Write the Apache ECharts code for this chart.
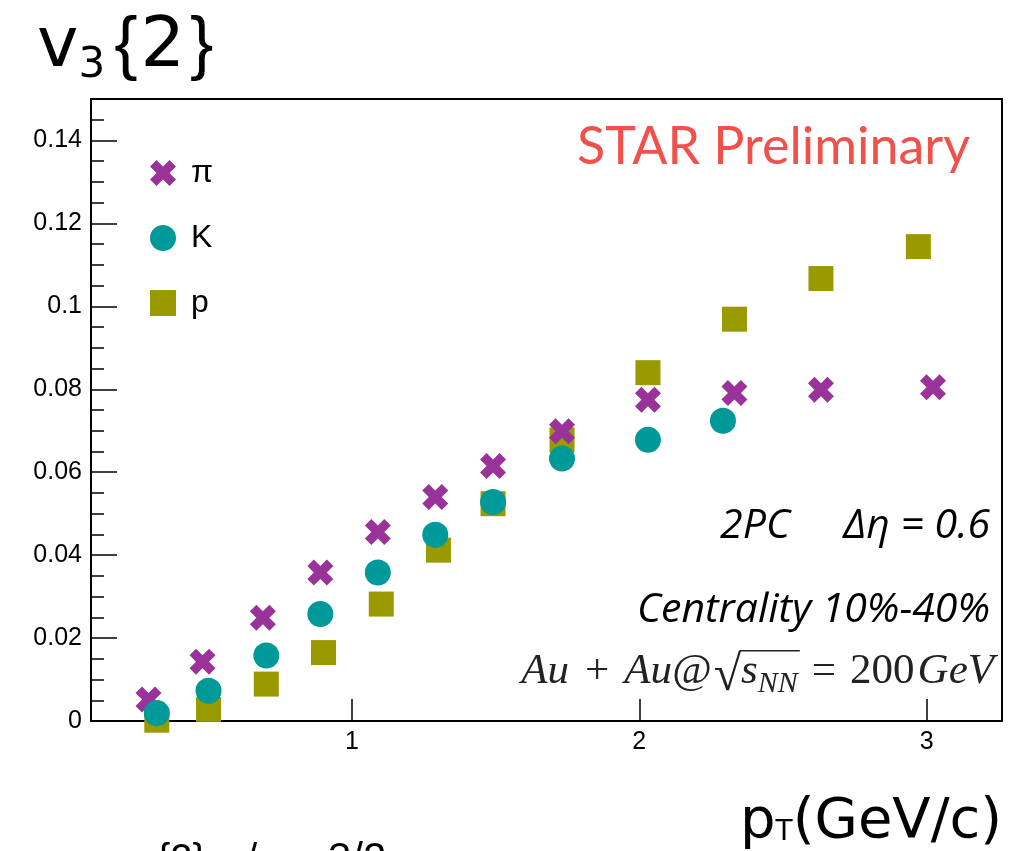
<!DOCTYPE html>
<html>
<head>
<meta charset="utf-8">
<script src="https://cdn.jsdelivr.net/npm/echarts@6/dist/echarts.min.js"></script>
<style>
  html, body { margin: 0; padding: 0; background: #fff; }
  #chart { width: 1026px; height: 851px; }
</style>
</head>
<body>
<div id="chart"></div>
<script>
// v3{2} versus transverse momentum for identified hadrons
const ptPi = [0.292, 0.480, 0.690, 0.890, 1.090, 1.290, 1.491, 1.731, 2.030, 2.331, 2.632, 3.022];
const v3Pi = [0.0052, 0.0143, 0.0249, 0.0358, 0.0456, 0.0540, 0.0615, 0.0699, 0.0775, 0.0791, 0.0799, 0.0805];

const ptK = [0.321, 0.501, 0.702, 0.890, 1.090, 1.290, 1.491, 1.731, 2.030, 2.291];
const v3K = [0.0019, 0.0073, 0.0158, 0.0258, 0.0358, 0.0449, 0.0528, 0.0633, 0.0678, 0.0724];

const ptP = [0.321, 0.501, 0.702, 0.901, 1.102, 1.301, 1.491, 1.731, 2.030, 2.331, 2.632, 2.971];
const v3P = [0.0002, 0.0028, 0.0089, 0.0165, 0.0282, 0.0412, 0.0524, 0.0678, 0.0840, 0.0969, 0.1067, 0.1144];

const seriesNames = ['π', 'K', 'p'];

const xTickValues = [1, 2, 3];
const yMajorValues = [0, 0.02, 0.04, 0.06, 0.08, 0.1, 0.12, 0.14];
const yMinorValues = [];
for (let i = 1; i < 30; i++) {
  if (i % 4 !== 0) yMinorValues.push(+(i * 0.005).toFixed(3));
}

const X_MIN = 0.092, X_MAX = 3.262, Y_MIN = 0, Y_MAX = 0.15;

const COLOR_PI = '#993399', COLOR_K = '#009999', COLOR_P = '#999900';
const CROSS = 'path://M2.5,0L5,2.5L7.5,0L10,2.5L7.5,5L10,7.5L7.5,10L5,7.5L2.5,10L0,7.5L2.5,5L0,2.5Z';

const zip = (xs, ys) => xs.map((x, i) => [x, ys[i]]);

// --- text layout helpers (baseline-aligned runs of differently styled pieces) ---
const mctx = document.createElement('canvas').getContext('2d');
const SANS = '"Liberation Sans", Arial, sans-serif';
const DEJAVU = '"DejaVu Sans", sans-serif';
const SERIF = '"Liberation Serif", "Times New Roman", serif';
const LATO = 'Lato, "Open Sans", sans-serif';
const OPEN = '"Open Sans", Lato, sans-serif';

function fontOf(p) {
  return (p.italic ? 'italic ' : '') + p.size + 'px ' + p.family;
}
function width(text, font) {
  mctx.font = font; mctx.textBaseline = 'alphabetic';
  return mctx.measureText(text).width;
}
// offset from the em-box middle to the alphabetic baseline
function midToBase(font) {
  mctx.font = font; mctx.textBaseline = 'middle';
  return mctx.measureText('H').actualBoundingBoxDescent;
}
function ascentOf(text, font) {
  mctx.font = font; mctx.textBaseline = 'alphabetic';
  return mctx.measureText(text).actualBoundingBoxAscent;
}

function textRun(pieces, x, baseline, align, color) {
  const widths = pieces.map(p => width(p.t, fontOf(p)) + (p.gap || 0));
  const total = widths.reduce((a, b) => a + b, 0);
  let cx = align === 'right' ? x - total : x;
  const els = [], spans = [];
  pieces.forEach((p, i) => {
    const f = fontOf(p);
    const base = baseline + (p.dy || 0);
    const gx = cx + (p.gap || 0);
    els.push({
      type: 'text', silent: true, z: 10,
      x: gx, y: base - midToBase(f),
      style: { text: p.t, font: f, fill: p.color || color, align: 'left', verticalAlign: 'middle' }
    });
    spans.push({ x0: gx, x1: cx + widths[i], base: base, font: f, t: p.t });
    cx += widths[i];
  });
  return { els, spans };
}

const graphics = [];

// y-axis title v3{2}
graphics.push(...textRun([
  { t: 'v', size: 70, family: DEJAVU },
  { t: '3', size: 42, family: DEJAVU, dy: 11 },
  { t: '{', size: 70, family: SANS, gap: 9 },
  { t: '2', size: 70, family: DEJAVU, gap: 3 },
  { t: '}', size: 70, family: SANS, gap: 5 }
], 37, 66, 'left', '#000').els);

// x-axis title pT(GeV/c)
graphics.push(...textRun([
  { t: 'p', size: 56, family: DEJAVU },
  { t: 'T', size: 28, family: DEJAVU, dy: 2 },
  { t: '(GeV/c)', size: 56, family: DEJAVU }
], 740, 838, 'left', '#000').els);

// STAR Preliminary
graphics.push(...textRun([
  { t: 'STAR Preliminary', size: 52, family: LATO }
], 970, 164, 'right', '#f0514b').els);

// analysis labels
graphics.push(...textRun([
  { t: '2PC', size: 41, family: OPEN, italic: true }
], 790, 538, 'right', '#000').els);
graphics.push(...textRun([
  { t: 'Δη = 0.6', size: 41, family: OPEN, italic: true }
], 990, 538, 'right', '#000').els);
graphics.push(...textRun([
  { t: 'Centrality 10%-40%', size: 41, family: OPEN, italic: true }
], 990, 622, 'right', '#000').els);

// collision system with sqrt(s_NN)
const sys = textRun([
  { t: 'Au', size: 43, family: SERIF, italic: true },
  { t: '+', size: 43, family: SERIF, gap: 16 },
  { t: 'Au@', size: 43, family: SERIF, italic: true, gap: 15 },
  { t: '√', size: 50, family: SERIF, dy: 7, gap: 2 },
  { t: 's', size: 43, family: SERIF, italic: true },
  { t: 'NN', size: 30, family: SERIF, italic: true, dy: 9 },
  { t: '=', size: 43, family: SERIF, gap: 14 },
  { t: '200', size: 43, family: SERIF, gap: 14 },
  { t: 'GeV', size: 43, family: SERIF, italic: true, gap: 3 }
], 994, 683, 'right', '#222');
graphics.push(...sys.els);
{
  const rad = sys.spans[3];
  const topY = rad.base - ascentOf('√', rad.font) + 0.8;
  graphics.push({
    type: 'line', silent: true, z: 10,
    shape: { x1: rad.x1 - 1.5, y1: topY, x2: sys.spans[5].x1 + 2, y2: topY },
    style: { stroke: '#222', lineWidth: 1.6 }
  });
}

// next panel's axis title, cut by the page edge
[
  { t: '{2}', x: 157, size: 40 },
  { t: '/', x: 246, size: 40 },
  { t: '3/2', x: 328, size: 42 }
].forEach(p => {
  graphics.push(...textRun([{ t: p.t, size: p.size, family: SANS }], p.x, 872, 'left', '#000').els);
});

const chart = echarts.init(document.getElementById('chart'), null, { renderer: 'canvas' });

const tickLabel = { color: '#000', fontFamily: SANS, fontSize: 25 };

chart.setOption({
  animation: false,
  backgroundColor: '#fff',
  grid: {
    left: 91, right: 24, top: 99, bottom: 130,
    show: true, borderColor: '#000', borderWidth: 2, backgroundColor: 'transparent'
  },
  legend: {
    orient: 'vertical', left: 145, top: 152,
    itemWidth: 26, itemHeight: 26, itemGap: 33,
    data: seriesNames,
    selectedMode: false,
    textStyle: { color: '#000', fontFamily: SANS, fontSize: 32, padding: [0, 0, 0, 10] }
  },
  xAxis: {
    type: 'value', min: X_MIN, max: X_MAX,
    axisLine: { show: true, onZero: false, lineStyle: { color: '#000', width: 2 } },
    axisTick: { show: true, inside: true, length: 22, customValues: xTickValues, lineStyle: { color: '#000', width: 1.5 } },
    axisLabel: { show: true, customValues: xTickValues, margin: 9, ...tickLabel, formatter: v => String(v) },
    splitLine: { show: false }
  },
  yAxis: [
    {
      type: 'value', min: Y_MIN, max: Y_MAX, position: 'left',
      axisLine: { show: true, onZero: false, lineStyle: { color: '#000', width: 2 } },
      axisTick: { show: true, inside: true, length: 26, customValues: yMajorValues, lineStyle: { color: '#000', width: 1.5 } },
      axisLabel: { show: true, customValues: yMajorValues, margin: 9, ...tickLabel, formatter: v => String(+v.toFixed(2)) },
      splitLine: { show: false }
    },
    {
      type: 'value', min: Y_MIN, max: Y_MAX, position: 'left', offset: 0,
      axisLine: { show: false },
      axisTick: { show: true, inside: true, length: 13, customValues: yMinorValues, lineStyle: { color: '#000', width: 1.5 } },
      axisLabel: { show: false },
      splitLine: { show: false }
    }
  ],
  series: [
    {
      name: 'π', type: 'scatter', data: zip(ptPi, v3Pi), yAxisIndex: 0,
      symbol: CROSS, symbolSize: 26, clip: false, z: 3,
      itemStyle: { color: COLOR_PI, opacity: 1 }, emphasis: { disabled: true }
    },
    {
      name: 'K', type: 'scatter', data: zip(ptK, v3K), yAxisIndex: 0,
      symbol: 'circle', symbolSize: 26, clip: false, z: 4,
      itemStyle: { color: COLOR_K, opacity: 1 }, emphasis: { disabled: true }
    },
    {
      name: 'p', type: 'scatter', data: zip(ptP, v3P), yAxisIndex: 0,
      symbol: 'rect', symbolSize: 25, clip: false, z: 2,
      itemStyle: { color: COLOR_P, opacity: 1 }, emphasis: { disabled: true }
    }
  ],
  graphic: graphics
});
</script>
</body>
</html>
